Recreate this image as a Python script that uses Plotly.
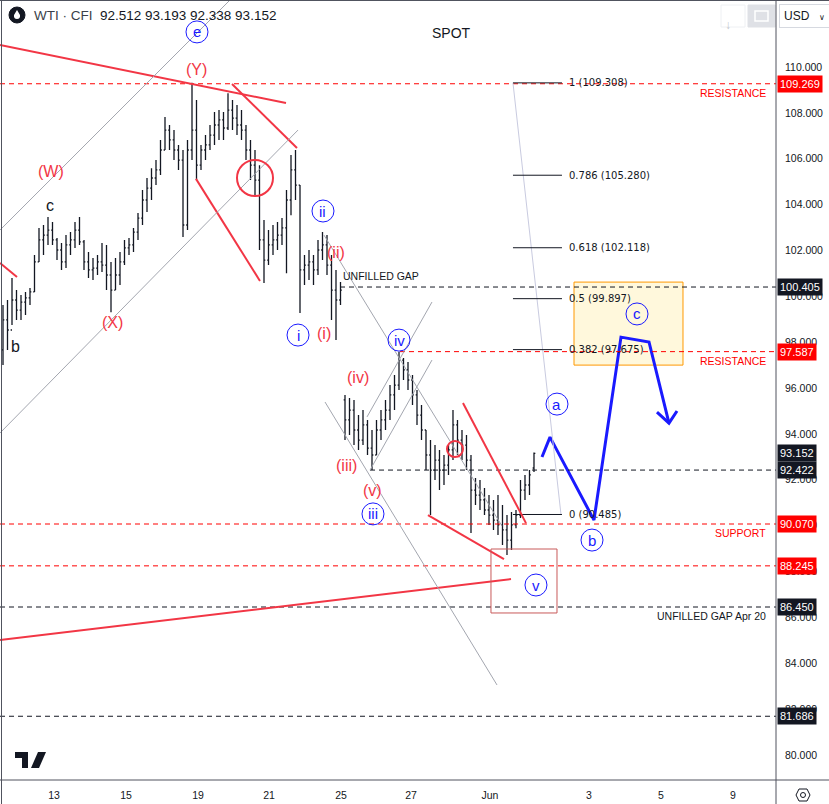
import plotly.graph_objects as go

# ---------------- data ----------------
opens = [97.66, 98.97, 98.53, 99.84, 99.40, 99.75, 99.93, 100.19, 101.50, 102.46,
         102.67, 102.89, 102.46, 102.02, 101.50, 102.24, 102.46, 102.89, 102.37, 101.50,
         101.15, 101.23, 101.50, 101.36, 100.93, 100.27, 100.93, 101.50, 102.11, 102.24,
         102.80, 103.41, 104.20, 104.72, 105.16, 105.51, 106.38, 107.25, 106.82, 106.38,
         105.94, 103.11, 106.38, 107.25, 105.72, 106.38, 106.60, 107.03, 107.47, 107.69,
         107.34, 108.12, 107.77, 107.47, 107.25, 106.38, 105.72, 105.07, 102.46, 101.58,
         102.24, 102.46, 102.67, 102.98, 104.20, 105.51, 104.85, 101.15, 101.36, 101.50,
         101.15, 102.02, 102.24, 101.36, 100.27, 99.84, 95.48, 94.61, 95.04, 94.17,
         93.73, 94.39, 93.38, 93.08, 94.17, 94.61, 95.04, 95.70, 96.13, 97.22,
         96.79, 96.35, 95.70, 94.82, 94.17, 93.08, 92.42, 92.86, 92.42, 92.64,
         93.30, 94.39, 93.73, 93.51, 92.86, 91.55, 91.33, 91.12, 90.68, 90.46,
         90.24, 90.03, 89.81, 89.37, 90.03, 90.46, 91.55, 91.77, 92.512]
highs = [99.62, 99.84, 100.80, 100.27, 100.06, 100.19, 100.36, 101.80, 102.98, 103.11,
         103.46, 103.24, 102.54, 102.33, 102.67, 102.80, 103.24, 103.46, 102.46, 101.93,
         101.67, 101.80, 102.33, 102.24, 101.50, 101.67, 101.93, 102.46, 102.54, 102.98,
         103.63, 104.64, 105.16, 105.59, 105.94, 106.82, 107.82, 107.47, 107.25, 106.60,
         106.38, 106.82, 109.308, 108.56, 106.60, 107.03, 107.47, 108.04, 108.12, 108.04,
         108.86, 108.56, 108.34, 108.12, 107.47, 106.82, 106.38, 105.72, 103.33, 102.89,
         103.11, 103.24, 103.41, 104.64, 106.16, 106.38, 104.85, 101.80, 102.02, 101.80,
         102.46, 102.80, 102.67, 101.80, 101.15, 100.62, 95.70, 95.56, 95.48, 94.82,
         95.04, 94.61, 94.17, 94.61, 95.04, 95.48, 96.13, 96.57, 97.587, 97.31,
         97.13, 96.57, 95.91, 95.26, 94.17, 93.73, 93.51, 93.30, 93.08, 93.51,
         95.04, 94.61, 94.17, 93.95, 93.08, 92.08, 91.99, 91.64, 91.33, 91.12,
         91.33, 90.90, 90.46, 90.59, 90.68, 91.99, 92.21, 92.42, 93.193]
lows = [97.00, 97.66, 98.75, 98.97, 98.97, 99.18, 99.62, 100.19, 101.50, 101.80,
        102.24, 102.24, 101.58, 101.15, 101.23, 101.80, 102.11, 102.24, 101.15, 100.80,
        100.71, 100.93, 101.06, 100.27, 99.31, 100.27, 100.49, 101.36, 101.80, 101.93,
        102.46, 103.11, 103.68, 104.20, 104.85, 105.29, 106.38, 106.38, 105.94, 105.51,
        102.59, 102.89, 105.94, 105.07, 105.51, 105.94, 106.38, 106.60, 106.82, 106.82,
        107.25, 107.25, 107.03, 106.82, 105.94, 105.07, 104.42, 102.02, 100.58, 101.36,
        101.80, 102.02, 102.24, 101.01, 103.54, 104.20, 99.27, 100.49, 100.71, 100.49,
        100.93, 101.58, 100.93, 98.97, 98.09, 99.62, 93.73, 93.95, 93.51, 93.30,
        93.51, 93.08, 92.422, 93.08, 93.73, 94.17, 94.61, 95.04, 95.91, 96.35,
        95.91, 95.26, 94.39, 93.73, 92.42, 90.46, 91.99, 91.55, 91.77, 92.21,
        92.86, 93.08, 92.86, 92.42, 89.68, 90.90, 90.68, 90.46, 90.03, 89.81,
        89.59, 89.15, 88.72, 88.94, 89.89, 90.33, 91.12, 91.33, 92.338]
closes = [98.97, 98.53, 99.84, 99.40, 99.75, 99.93, 100.19, 101.50, 102.46, 102.67,
          102.89, 102.46, 102.02, 101.50, 102.24, 102.46, 102.89, 102.37, 101.50, 101.15,
          101.23, 101.50, 101.36, 100.93, 100.27, 100.93, 101.50, 102.11, 102.24, 102.80,
          103.41, 104.20, 104.72, 105.16, 105.51, 106.38, 107.25, 106.82, 106.38, 105.94,
          103.11, 106.38, 107.25, 105.72, 106.38, 106.60, 107.03, 107.47, 107.69, 107.34,
          108.12, 107.77, 107.47, 107.25, 106.38, 105.72, 105.07, 102.46, 101.58, 102.24,
          102.46, 102.67, 102.98, 104.20, 105.51, 104.85, 101.15, 101.36, 101.50, 101.15,
          102.02, 102.24, 101.36, 100.27, 99.84, 100.27, 94.61, 95.04, 94.17, 93.73,
          94.39, 93.38, 93.08, 94.17, 94.61, 95.04, 95.70, 96.13, 97.22, 96.79,
          96.35, 95.70, 94.82, 94.17, 93.08, 92.42, 92.86, 92.42, 92.64, 93.30,
          94.39, 93.73, 93.51, 92.86, 91.55, 91.33, 91.12, 90.68, 90.46, 90.24,
          90.03, 89.81, 89.37, 90.03, 90.46, 91.55, 91.77, 92.21, 93.152]
bar_index = list(range(len(closes)))

tick_labels = ['13', '15', '19', '21', '25', '27', 'Jun', '3', '5', '9']
tick_index = [11.33, 27.33, 43.33, 59.11, 75.11, 90.67, 108.22, 130.22, 146.22, 162.22]
price_ticks = [80, 82, 84, 86, 88, 90, 92, 94, 96, 98, 100, 102, 104, 106, 108, 110]

# horizontal levels: (price, colour kind, start bar index or None for full width)
level_prices = [109.269, 100.405, 97.587, 92.422, 90.070, 88.245, 86.450, 81.686]
level_kinds = ['red', 'black', 'red', 'black', 'red', 'red', 'black', 'black']
level_starts = [None, 74.89, 88.22, 81.56, None, None, None, None]
last_price = 93.152

fib_ratios = ['1', '0.786', '0.618', '0.5', '0.382', '0']
fib_prices = [109.308, 105.280, 102.118, 99.897, 97.675, 90.485]

# projected path (bar index, price)
proj_x = [119.78, 121.56, 131.33, 137.33, 143.56, 148.0]
proj_y = [92.99, 93.86, 90.24, 98.22, 98.01, 94.47]

X_MIN, X_MAX = -0.667, 171.78
Y_MIN, Y_MAX = 78.906, 112.922

RED = '#f23645'
DRED = '#ff0000'
BLUE = '#1a1aff'
INK = '#131722'
GRAY = '#a3a6af'
FONT = 'Liberation Sans, Arial, sans-serif'

fig = go.Figure()
fig.add_trace(go.Ohlc(x=bar_index, open=opens, high=highs, low=lows, close=closes,
                      increasing_line_color=INK, decreasing_line_color=INK,
                      line_width=1.3, tickwidth=0.3, hoverinfo='skip', showlegend=False))

# projection path
fig.add_trace(go.Scatter(x=proj_x, y=proj_y, mode='lines', line=dict(color=BLUE, width=3),
                         hoverinfo='skip', showlegend=False))
fig.add_trace(go.Scatter(x=[145.33, 148.0, 149.78], y=[94.95, 94.47, 95.00], mode='lines',
                         line=dict(color=BLUE, width=3), hoverinfo='skip', showlegend=False))

shapes = []
ann = []

def seg(x0, y0, x1, y1, color, width=1, dash=None):
    d = dict(type='line', xref='x', yref='y', x0=x0, y0=y0, x1=x1, y1=y1,
             line=dict(color=color, width=width))
    if dash:
        d['line']['dash'] = dash
    shapes.append(d)

# orange box (drawn first, below everything)
shapes.append(dict(type='rect', xref='x', yref='y', x0=126.89, x1=151.11, y0=97.00, y1=100.62,
                   fillcolor='#fff8dc', line=dict(color='#ff9800', width=1),
                   layer='below'))

# dashed levels
for p, k, s in zip(level_prices, level_kinds, level_starts):
    seg(X_MIN if s is None else s, p, X_MAX, p, DRED if k == 'red' else INK, 1, '5px,4px')

# fib
seg(113.33, fib_prices[0], 124.0, fib_prices[-1], '#c9cbe0', 1)
for r, p in zip(fib_ratios, fib_prices):
    seg(113.33, p, 124.22, p, INK, 1)
    ann.append(dict(x=125.4, y=p, xref='x', yref='y', text=f'{r} ({p:.3f})', showarrow=False,
                    xanchor='left', yanchor='middle',
                    font=dict(family='DejaVu Sans', size=10, color=INK)))

# red trend lines
seg(X_MIN, 110.96, 62.89, 108.43, RED, 2)
seg(50.89, 109.26, 65.33, 106.47, RED, 2)
seg(42.89, 105.12, 57.11, 100.67, RED, 2)
seg(X_MIN, 101.45, 3.11, 100.84, RED, 2)
seg(X_MIN, 85.01, 112.89, 87.67, RED, 2)
seg(94.44, 90.46, 111.33, 88.54, RED, 2)
seg(102.22, 95.35, 116.22, 90.11, RED, 2)
# box around v
shapes.append(dict(type='rect', xref='x', yref='y', x0=108.44, x1=123.11, y0=86.19, y1=88.98,
                   line=dict(color='#c85a5a', width=1)))

# gray channel lines
seg(X_MIN, 102.89, 50.44, 112.92, GRAY, 1)
seg(X_MIN, 94.04, 65.56, 107.25, GRAY, 1)
seg(71.33, 102.67, 110.89, 89.98, GRAY, 1)
seg(71.56, 95.39, 109.78, 83.05, GRAY, 1)
seg(80.89, 94.74, 95.33, 99.75, GRAY, 1)
seg(81.56, 92.42, 95.33, 97.22, GRAY, 1)

def pcircle(x, y, r, color, width):
    shapes.append(dict(type='circle', xref='x', yref='y', xsizemode='pixel', ysizemode='pixel',
                       xanchor=x, yanchor=y, x0=-r, x1=r, y0=-r, y1=r,
                       line=dict(color=color, width=width)))

pcircle(56.0, 105.16, 18, RED, 2)
pcircle(100.44, 93.34, 8, RED, 2)

# blue circled wave labels
blue_labels = [('e', 43.11, 111.53), ('ii', 71.11, 103.72), ('i', 65.56, 98.31),
               ('iv', 88.0, 98.09), ('iii', 82.22, 90.51), ('a', 123.11, 95.30),
               ('b', 130.89, 89.37), ('c', 140.89, 99.23), ('v', 118.44, 87.41)]
for t, x, y in blue_labels:
    pcircle(x, y, 11, BLUE, 1)
    ann.append(dict(x=x, y=y, xref='x', yref='y', text=t, showarrow=False,
                    xanchor='center', yanchor='middle',
                    font=dict(family=FONT, size=15, color=BLUE)))

red_labels = [('(Y)', 42.89, 109.91), ('(W)', 10.67, 105.46), ('(X)', 24.44, 98.84),
              ('(ii)', 74.0, 101.93), ('(i)', 71.33, 98.40), ('(iv)', 78.89, 96.44),
              ('(iii)', 76.44, 92.64), ('(v)', 82.0, 91.55)]
for t, x, y in red_labels:
    ann.append(dict(x=x, y=y, xref='x', yref='y', text=t, showarrow=False,
                    xanchor='center', yanchor='middle',
                    font=dict(family=FONT, size=16, color=RED)))
for t, x, y in [('c', 10.44, 103.98), ('b', 2.67, 97.79)]:
    ann.append(dict(x=x, y=y, xref='x', yref='y', text=t, showarrow=False,
                    xanchor='center', yanchor='middle',
                    font=dict(family=FONT, size=16, color=INK)))

ann.append(dict(x=99.56, y=111.48, xref='x', yref='y', text='SPOT', showarrow=False,
                font=dict(family=FONT, size=14, color=INK)))
ann.append(dict(x=75.11, y=100.89, xref='x', yref='y', text='UNFILLED GAP', showarrow=False,
                xanchor='left', font=dict(family=FONT, size=10.5, color=INK)))
for txt, p, col in [('RESISTANCE', 109.269, DRED), ('RESISTANCE', 97.587, DRED),
                    ('SUPPORT', 90.070, DRED), ('UNFILLED GAP Apr 20', 86.450, INK)]:
    ann.append(dict(x=170.0, y=p, xref='x', yref='y', text=txt, showarrow=False,
                    xanchor='right', yanchor='middle', yshift=-9,
                    font=dict(family=FONT, size=10.5, color=col)))

# price tags on the axis
tag_prices = level_prices[:3] + [last_price] + level_prices[3:]
tag_kinds = level_kinds[:3] + ['black'] + level_kinds[3:]
for p, k in zip(tag_prices, tag_kinds):
    ann.append(dict(x=1.0, y=p, xref='paper', yref='y', text=f'{p:.3f}', showarrow=False,
                    xanchor='left', yanchor='middle', xshift=1,
                    bgcolor=DRED if k == 'red' else INK, borderpad=2,
                    font=dict(family=FONT, size=11, color='white')))

# header
W_PLOT, H_PLOT = 776.0, 780.0
def px(x):
    return x / W_PLOT
def py(y):
    return 1 - y / H_PLOT

ann.append(dict(x=px(32), y=py(15), xref='paper', yref='paper', showarrow=False,
                xanchor='left', yanchor='middle',
                text='WTI · CFI&nbsp; <span style="color:#131722">92.512 93.193 92.338 93.152</span>',
                font=dict(family=FONT, size=13.5, color='#3b3f4a')))
shapes.append(dict(type='circle', xref='paper', yref='paper', xsizemode='pixel', ysizemode='pixel',
                   xanchor=px(17), yanchor=py(15), x0=-8, x1=8, y0=-8, y1=8,
                   fillcolor=INK, line=dict(color=INK, width=1)))
shapes.append(dict(type='path', xref='paper', yref='paper', xsizemode='pixel', ysizemode='pixel',
                   xanchor=px(17), yanchor=py(15),
                   path='M 0,5 L -3,0 Q -3.5,-4 0,-4 Q 3.5,-4 3,0 Z',
                   fillcolor='white', line=dict(color='white', width=0)))

# top-right buttons
shapes.append(dict(type='rect', xref='paper', yref='paper', x0=px(721), x1=px(745), y0=py(27), y1=py(5),
                   line=dict(color='#eef0f3', width=1), fillcolor='white'))
ann.append(dict(x=px(733), y=py(16), xref='paper', yref='paper', text='↓', showarrow=False,
                font=dict(family=FONT, size=12, color='#c3c6cd')))
shapes.append(dict(type='rect', xref='paper', yref='paper', x0=px(748), x1=px(775), y0=py(27), y1=py(5),
                   line=dict(color='#dfe1e6', width=1), fillcolor='#dfe1e6'))
shapes.append(dict(type='rect', xref='paper', yref='paper', x0=px(755), x1=px(768), y0=py(21), y1=py(11),
                   line=dict(color='white', width=1.5), fillcolor='rgba(0,0,0,0)'))
ann.append(dict(x=px(779), y=py(15.5), xref='paper', yref='paper',
                text='USD&nbsp;&nbsp;&nbsp;<span style="font-size:8px">∨</span>', showarrow=False,
                xanchor='left', yanchor='middle', bordercolor='#d6d9e0', borderwidth=1,
                borderpad=4, bgcolor='white',
                font=dict(family=FONT, size=12, color=INK)))

# frame lines
shapes.append(dict(type='line', xref='paper', yref='paper', x0=1, x1=1, y0=py(804), y1=1,
                   line=dict(color='#50535e', width=1)))
shapes.append(dict(type='line', xref='paper', yref='paper', x0=0, x1=px(829), y0=0, y1=0,
                   line=dict(color='#50535e', width=1)))
shapes.append(dict(type='line', xref='paper', yref='paper', x0=px(1.5), x1=px(1.5), y0=py(804), y1=1,
                   line=dict(color='#50535e', width=1)))
shapes.append(dict(type='line', xref='paper', yref='paper', x0=0, x1=px(829), y0=py(0.5), y1=py(0.5),
                   line=dict(color='#50535e', width=1)))

# bottom right settings icon
shapes.append(dict(type='path', xref='paper', yref='paper', xsizemode='pixel', ysizemode='pixel',
                   xanchor=px(803), yanchor=py(795),
                   path='M -4,6 L 4,6 L 7,0 L 4,-6 L -4,-6 L -7,0 Z',
                   line=dict(color=INK, width=1)))
shapes.append(dict(type='circle', xref='paper', yref='paper', xsizemode='pixel', ysizemode='pixel',
                   xanchor=px(803), yanchor=py(795), x0=-2.5, x1=2.5, y0=-2.5, y1=2.5,
                   line=dict(color=INK, width=1)))

# TradingView logo
shapes.append(dict(type='path', xref='paper', yref='paper', xsizemode='pixel', ysizemode='pixel',
                   xanchor=px(15), yanchor=py(768),
                   path='M 0,16 L 13,16 L 13,0 L 7,0 L 7,10 L 0,10 Z',
                   fillcolor=INK, line=dict(color=INK, width=0)))
shapes.append(dict(type='circle', xref='paper', yref='paper', xsizemode='pixel', ysizemode='pixel',
                   xanchor=px(19), yanchor=py(755), x0=-3, x1=3, y0=-3, y1=3,
                   fillcolor=INK, line=dict(width=0)))
shapes.append(dict(type='path', xref='paper', yref='paper', xsizemode='pixel', ysizemode='pixel',
                   xanchor=px(15), yanchor=py(768),
                   path='M 23,16 L 31,16 L 24,0 L 16,0 Z',
                   fillcolor=INK, line=dict(color=INK, width=0)))

fig.update_layout(
    width=829, height=804,
    margin=dict(l=0, r=53, t=0, b=24),
    paper_bgcolor='white', plot_bgcolor='white',
    showlegend=False,
    shapes=shapes, annotations=ann,
    hovermode=False,
    xaxis=dict(range=[X_MIN, X_MAX], tickvals=tick_index, ticktext=tick_labels,
               showgrid=False, zeroline=False, showline=False, ticks='',
               rangeslider=dict(visible=False), fixedrange=True,
               tickfont=dict(family=FONT, size=10.5, color=INK), ticklabelstandoff=7),
    yaxis=dict(range=[Y_MIN, Y_MAX], side='right', tickvals=price_ticks,
               ticktext=[f'{v:.3f}' for v in price_ticks],
               showgrid=False, zeroline=False, showline=False, ticks='',
               tickfont=dict(family=FONT, size=10.5, color=INK), ticklabelstandoff=8),
)

fig.write_html('out.html')
